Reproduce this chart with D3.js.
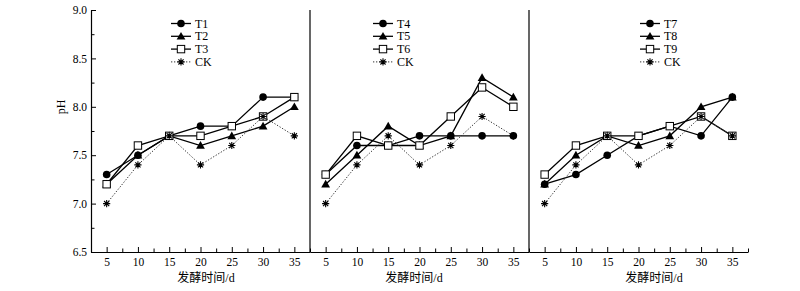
<!DOCTYPE html>
<html>
<head>
<meta charset="utf-8">
<script src="https://cdn.jsdelivr.net/npm/d3@7"></script>
<style>
  html, body { margin: 0; padding: 0; background: #fff; }
  svg { display: block; }
  text { font-family: "Liberation Serif", "Times New Roman", "Noto Sans CJK SC", serif; fill: #000; }
</style>
</head>
<body>
<svg id="chart" width="800" height="291"></svg>
<script>
// ---- data ----
const days = [5, 10, 15, 20, 25, 30, 35];
const xTicks = [5, 10, 15, 20, 25, 30, 35];
const xMinorTicks = [7.5, 12.5, 17.5, 22.5, 27.5, 32.5, 37.5];
const yTicks = [6.5, 7.0, 7.5, 8.0, 8.5, 9.0];
const yMinorTicks = [6.75, 7.25, 7.75, 8.25, 8.75];

const T1 = [7.3, 7.5, 7.7, 7.8, 7.8, 8.1, 8.1];
const T2 = [7.2, 7.5, 7.7, 7.6, 7.7, 7.8, 8.0];
const T3 = [7.2, 7.6, 7.7, 7.7, 7.8, 7.9, 8.1];
const T4 = [7.3, 7.6, 7.6, 7.7, 7.7, 7.7, 7.7];
const T5 = [7.2, 7.5, 7.8, 7.6, 7.7, 8.3, 8.1];
const T6 = [7.3, 7.7, 7.6, 7.6, 7.9, 8.2, 8.0];
const T7 = [7.2, 7.3, 7.5, 7.7, 7.8, 7.7, 8.1];
const T8 = [7.2, 7.5, 7.7, 7.6, 7.7, 8.0, 8.1];
const T9 = [7.3, 7.6, 7.7, 7.7, 7.8, 7.9, 7.7];
const CK = [7.0, 7.4, 7.7, 7.4, 7.6, 7.9, 7.7];

const panelNames = [["T1","T2","T3","CK"], ["T4","T5","T6","CK"], ["T7","T8","T9","CK"]];
const panelSeries = [[T1,T2,T3,CK], [T4,T5,T6,CK], [T7,T8,T9,CK]];
const markerTypes = ["circle", "triangle", "square", "asterisk"];
const xTitle = "发酵时间/d";
const yTitle = "pH";

// ---- layout ----
const svg = d3.select("#chart");
const plotTop = 10, plotBottom = 252;
const panelLeft = [91, 310, 529];
const panelW = 219;
const legendX = [171, 373, 640];
const titleX = [206, 414, 654];
const y = d3.scaleLinear().domain([6.5, 9.0]).range([plotBottom, plotTop]);

function drawMarker(g, type, cx, cy) {
  if (type === "circle") {
    g.append("circle").attr("cx", cx).attr("cy", cy).attr("r", 3.8).attr("fill", "#000");
  } else if (type === "triangle") {
    const s = 4.4;
    g.append("path").attr("d", `M${cx},${cy - s} L${cx + s},${cy + s * 0.75} L${cx - s},${cy + s * 0.75} Z`).attr("fill", "#000");
  } else if (type === "square") {
    g.append("rect").attr("x", cx - 3.7).attr("y", cy - 3.7).attr("width", 7.4).attr("height", 7.4)
      .attr("fill", "#fff").attr("stroke", "#000").attr("stroke-width", 1);
  } else {
    const r = 3.6;
    const d = [[r,0],[0,r],[r*0.72,r*0.72],[r*0.72,-r*0.72]]
      .map(([a,b]) => `M${cx - a},${cy - b} L${cx + a},${cy + b}`).join(" ");
    g.append("path").attr("d", d).attr("stroke", "#000").attr("stroke-width", 1.1).attr("fill", "none");
  }
}

panelSeries.forEach((series, p) => {
  const x = d3.scaleLinear().domain([2.5, 37.5]).range([panelLeft[p], panelLeft[p] + panelW]);
  const g = svg.append("g");

  // x axis (ticks inward)
  const xAxis = g.append("g").attr("transform", `translate(0,${plotBottom})`)
    .call(d3.axisBottom(x).tickValues(xTicks).tickSize(-5).tickSizeOuter(0).tickPadding(6).tickFormat(d3.format("d")));
  xAxis.select(".domain").attr("stroke-width", 1.2);
  xAxis.selectAll("text").attr("font-size", 11.5).attr("font-family", "Liberation Serif");
  g.append("g").attr("transform", `translate(0,${plotBottom})`)
    .call(d3.axisBottom(x).tickValues(xMinorTicks).tickSize(-3.5).tickSizeOuter(0).tickFormat(""))
    .select(".domain").remove();

  // left vertical line
  if (p === 0) {
    const yAxis = g.append("g").attr("transform", `translate(${panelLeft[p]},0)`)
      .call(d3.axisLeft(y).tickValues(yTicks).tickSize(-5).tickSizeOuter(0).tickPadding(4).tickFormat(d3.format(".1f")));
    yAxis.select(".domain").attr("stroke-width", 1.2);
    yAxis.selectAll("text").attr("font-size", 11.5).attr("font-family", "Liberation Serif");
    g.append("g").attr("transform", `translate(${panelLeft[p]},0)`)
      .call(d3.axisLeft(y).tickValues(yMinorTicks).tickSize(-3.5).tickSizeOuter(0).tickFormat(""))
      .select(".domain").remove();
  } else {
    g.append("line").attr("x1", panelLeft[p]).attr("x2", panelLeft[p])
      .attr("y1", y(9.0)).attr("y2", y(6.5)).attr("stroke", "#000").attr("stroke-width", 1.2);
  }

  // x title
  g.append("text").attr("x", titleX[p]).attr("y", 282)
    .attr("text-anchor", "middle").attr("font-size", 12)
    .attr("font-family", "'Noto Sans CJK SC', 'Liberation Serif', serif")
    .text(xTitle);

  // series lines
  const line = d3.line().x((d, i) => x(days[i])).y(d => y(d));
  series.forEach((vals, s) => {
    g.append("path").datum(vals).attr("d", line).attr("fill", "none")
      .attr("stroke", s === 3 ? "#333" : "#000")
      .attr("stroke-width", s === 3 ? 1 : 1.3)
      .attr("stroke-dasharray", s === 3 ? "1.3,1.7" : null);
  });
  // markers: triangles, circles, squares, then asterisks on top
  [1, 0, 2, 3].forEach(s => {
    series[s].forEach((v, i) => drawMarker(g, markerTypes[s], x(days[i]), y(v)));
  });

  // legend
  const ly0 = 23.5, ldy = 12.8;
  panelNames[p].forEach((name, s) => {
    const ly = ly0 + s * ldy;
    const lx = legendX[p];
    g.append("line").attr("x1", lx).attr("x2", lx + 20).attr("y1", ly).attr("y2", ly)
      .attr("stroke", s === 3 ? "#333" : "#000").attr("stroke-width", s === 3 ? 1 : 1.3)
      .attr("stroke-dasharray", s === 3 ? "1.3,1.7" : null);
    drawMarker(g, markerTypes[s], lx + 10, ly);
    g.append("text").attr("x", lx + 24).attr("y", ly + 4).attr("font-size", 12)
      .attr("font-family", "Liberation Serif").text(name);
  });
});

// y title
svg.append("text").attr("transform", "translate(65,107) rotate(-90)")
  .attr("text-anchor", "middle").attr("font-size", 12).attr("font-family", "Liberation Serif").text(yTitle);
</script>
</body>
</html>
